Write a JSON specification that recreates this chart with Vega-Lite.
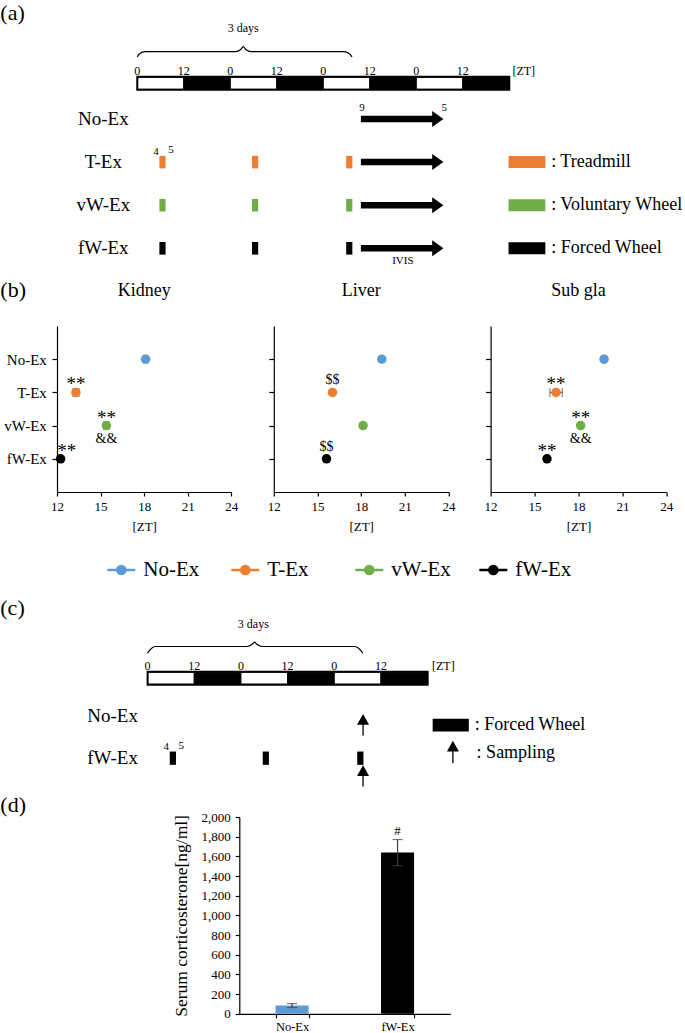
{
 "$schema": "https://vega.github.io/schema/vega-lite/v6.json",
 "padding": 0,
 "spacing": 0,
 "background": "#ffffff",
 "config": {
  "view": {"stroke": null},
  "font": "Liberation Serif",
  "axis": {"labelFont": "Liberation Serif", "titleFont": "Liberation Serif", "labelColor": "#000", "titleColor": "#000", "domainColor": "#000", "tickColor": "#000", "grid": false, "titleFontWeight": "normal", "domainWidth": 1.2, "tickWidth": 1.2},
  "title": {"font": "Liberation Serif", "fontWeight": "normal", "color": "#000"},
  "text": {"font": "Liberation Serif", "color": "#000"}
 },
 "datasets": {
  "one": [{}],
  "cycle": [
   {"start": 0, "end": 12, "phase": "light", "zt": 0},
   {"start": 12, "end": 24, "phase": "dark", "zt": 12},
   {"start": 24, "end": 36, "phase": "light", "zt": 0},
   {"start": 36, "end": 48, "phase": "dark", "zt": 12},
   {"start": 48, "end": 60, "phase": "light", "zt": 0},
   {"start": 60, "end": 72, "phase": "dark", "zt": 12},
   {"start": 72, "end": 84, "phase": "light", "zt": 0},
   {"start": 84, "end": 96, "phase": "dark", "zt": 12}
  ],
  "groups": [
   {"group": "No-Ex", "order": 1},
   {"group": "T-Ex", "order": 2},
   {"group": "vW-Ex", "order": 3},
   {"group": "fW-Ex", "order": 4}
  ],
  "sessions": [
   {"group": "T-Ex", "start": 5.7, "end": 7.3},
   {"group": "T-Ex", "start": 29.6, "end": 31.2},
   {"group": "T-Ex", "start": 53.9, "end": 55.5},
   {"group": "vW-Ex", "start": 5.7, "end": 7.3},
   {"group": "vW-Ex", "start": 29.6, "end": 31.2},
   {"group": "vW-Ex", "start": 53.9, "end": 55.5},
   {"group": "fW-Ex", "start": 5.7, "end": 7.3},
   {"group": "fW-Ex", "start": 29.6, "end": 31.2},
   {"group": "fW-Ex", "start": 53.9, "end": 55.5}
  ],
  "modes": [
   {"group": "T-Ex", "label": ": Treadmill"},
   {"group": "vW-Ex", "label": ": Voluntary Wheel"},
   {"group": "fW-Ex", "label": ": Forced Wheel"}
  ],
  "braceA": [
   {"h": 0, "v": -0.4385}, {"h": 0.5, "v": -0.508}, {"h": 2, "v": -0.5615}, {"h": 25.3, "v": -0.5615},
   {"h": 26.7, "v": -0.6125}, {"h": 27.35, "v": -0.6775}, {"h": 28.0, "v": -0.6125}, {"h": 29.4, "v": -0.5615},
   {"h": 53.3, "v": -0.5615}, {"h": 54.8, "v": -0.508}, {"h": 55.4, "v": -0.4385}
  ],
  "braceC": [
   {"h": 0, "v": -3.554}, {"h": 0.5, "v": -3.748}, {"h": 2, "v": -4.036}, {"h": 25.5, "v": -4.036},
   {"h": 26.9, "v": -4.194}, {"h": 27.5, "v": -4.345}, {"h": 28.1, "v": -4.194}, {"h": 29.5, "v": -4.036},
   {"h": 53.2, "v": -4.036}, {"h": 54.8, "v": -3.748}, {"h": 55.3, "v": -3.554}
  ],
  "phases": [
   {"organ": "Kidney", "group": "No-Ex", "zt": 18.1, "lo": 17.98, "hi": 18.22, "star": "", "starR": "", "dollar": "", "amp": ""},
   {"organ": "Kidney", "group": "T-Ex", "zt": 13.3, "lo": 13.1, "hi": 13.5, "star": "**", "starR": "", "dollar": "", "amp": ""},
   {"organ": "Kidney", "group": "vW-Ex", "zt": 15.4, "lo": 15.22, "hi": 15.58, "star": "**", "starR": "", "dollar": "", "amp": "&&"},
   {"organ": "Kidney", "group": "fW-Ex", "zt": 12.25, "lo": 12.15, "hi": 12.35, "star": "", "starR": "**", "dollar": "", "amp": ""},
   {"organ": "Liver", "group": "No-Ex", "zt": 19.42, "lo": 19.32, "hi": 19.52, "star": "", "starR": "", "dollar": "", "amp": ""},
   {"organ": "Liver", "group": "T-Ex", "zt": 16.03, "lo": 15.93, "hi": 16.13, "star": "", "starR": "", "dollar": "$$", "amp": ""},
   {"organ": "Liver", "group": "vW-Ex", "zt": 18.13, "lo": 18.03, "hi": 18.23, "star": "", "starR": "", "dollar": "", "amp": ""},
   {"organ": "Liver", "group": "fW-Ex", "zt": 15.62, "lo": 15.52, "hi": 15.72, "star": "", "starR": "", "dollar": "$$", "amp": ""},
   {"organ": "Sub gla", "group": "No-Ex", "zt": 19.75, "lo": 19.65, "hi": 19.85, "star": "", "starR": "", "dollar": "", "amp": ""},
   {"organ": "Sub gla", "group": "T-Ex", "zt": 16.47, "lo": 16.05, "hi": 16.9, "star": "**", "starR": "", "dollar": "", "amp": ""},
   {"organ": "Sub gla", "group": "vW-Ex", "zt": 18.15, "lo": 18.05, "hi": 18.25, "star": "**", "starR": "", "dollar": "", "amp": "&&"},
   {"organ": "Sub gla", "group": "fW-Ex", "zt": 15.85, "lo": 15.75, "hi": 15.95, "star": "**", "starR": "", "dollar": "", "amp": ""}
  ],
  "cort": [
   {"group": "No-Ex", "value": 85, "lo": 64, "hi": 104, "sig": ""},
   {"group": "fW-Ex", "value": 1640, "lo": 1506, "hi": 1771, "sig": "#"}
  ]
 },
 "vconcat": [
  {
   "width": 628.3, "height": 279,
   "layer": [
    {"data": {"name": "cycle"}, "mark": {"type": "bar", "size": 12, "stroke": "#000", "strokeWidth": 1},
     "encoding": {"x": {"field": "start", "type": "quantitative", "scale": {"domain": [-20.723, 141.419], "nice": false, "zero": false, "padding": 0}, "axis": null}, "x2": {"field": "end"},
      "y": {"datum": 0.1717, "type": "quantitative", "scale": {"domain": [-1.761, 4.712], "nice": false, "zero": false, "reverse": true, "padding": 0}, "axis": null},
      "fill": {"field": "phase", "type": "nominal", "scale": {"domain": ["light", "dark"], "range": ["#ffffff", "#000000"]}, "legend": null}}},
    {"data": {"name": "one"}, "mark": {"type": "bar", "size": 13, "fill": "transparent", "stroke": "#000", "strokeWidth": 2},
     "encoding": {"x": {"datum": 0, "type": "quantitative", "scale": {"domain": [-20.723, 141.419], "nice": false, "zero": false, "padding": 0}, "axis": null}, "x2": {"datum": 96},
      "y": {"datum": 0.1717, "type": "quantitative", "scale": {"domain": [-1.761, 4.712], "nice": false, "zero": false, "reverse": true, "padding": 0}, "axis": null}}},
    {"data": {"name": "cycle"}, "mark": {"type": "text", "fontSize": 12, "baseline": "middle"},
     "encoding": {"x": {"field": "start", "type": "quantitative", "scale": {"domain": [-20.723, 141.419], "nice": false, "zero": false, "padding": 0}, "axis": null},
      "y": {"datum": -0.1206, "type": "quantitative", "scale": {"domain": [-1.761, 4.712], "nice": false, "zero": false, "reverse": true, "padding": 0}, "axis": null},
      "text": {"field": "zt", "type": "quantitative"}}},
    {"data": {"name": "one"}, "mark": {"type": "text", "fontSize": 12, "align": "left", "baseline": "middle"},
     "encoding": {"x": {"datum": 96.8, "type": "quantitative", "scale": {"domain": [-20.723, 141.419], "nice": false, "zero": false, "padding": 0}, "axis": null},
      "y": {"datum": -0.1206, "type": "quantitative", "scale": {"domain": [-1.761, 4.712], "nice": false, "zero": false, "reverse": true, "padding": 0}, "axis": null},
      "text": {"value": "[ZT]"}}},
    {"data": {"name": "one"}, "mark": {"type": "text", "fontSize": 12, "baseline": "middle"},
     "encoding": {"x": {"datum": 27.35, "type": "quantitative", "scale": {"domain": [-20.723, 141.419], "nice": false, "zero": false, "padding": 0}, "axis": null},
      "y": {"datum": -1.104, "type": "quantitative", "scale": {"domain": [-1.761, 4.712], "nice": false, "zero": false, "reverse": true, "padding": 0}, "axis": null},
      "text": {"value": "3 days"}}},
    {"data": {"name": "one"}, "mark": {"type": "text", "fontSize": 22, "align": "left", "baseline": "middle"},
     "encoding": {"x": {"datum": -35.355, "type": "quantitative", "scale": {"domain": [-20.723, 141.419], "nice": false, "zero": false, "padding": 0}, "axis": null},
      "y": {"datum": -1.459, "type": "quantitative", "scale": {"domain": [-1.761, 4.712], "nice": false, "zero": false, "reverse": true, "padding": 0}, "axis": null},
      "text": {"value": "(a)"}}},
    {"data": {"name": "braceA"}, "mark": {"type": "line", "interpolate": "monotone", "color": "#000", "strokeWidth": 1.2},
     "encoding": {"x": {"field": "h", "type": "quantitative", "scale": {"domain": [-20.723, 141.419], "nice": false, "zero": false, "padding": 0}, "axis": null},
      "y": {"field": "v", "type": "quantitative", "scale": {"domain": [-1.761, 4.712], "nice": false, "zero": false, "reverse": true, "padding": 0}, "axis": null}}},
    {"data": {"name": "one"}, "mark": {"type": "text", "fontSize": 11, "baseline": "middle"},
     "encoding": {"x": {"datum": 57.96, "type": "quantitative", "scale": {"domain": [-20.723, 141.419], "nice": false, "zero": false, "padding": 0}, "axis": null},
      "y": {"datum": 0.738, "type": "quantitative", "scale": {"domain": [-1.761, 4.712], "nice": false, "zero": false, "reverse": true, "padding": 0}, "axis": null},
      "text": {"value": "9"}}},
    {"data": {"name": "one"}, "mark": {"type": "text", "fontSize": 11, "baseline": "middle"},
     "encoding": {"x": {"datum": 79.2, "type": "quantitative", "scale": {"domain": [-20.723, 141.419], "nice": false, "zero": false, "padding": 0}, "axis": null},
      "y": {"datum": 0.738, "type": "quantitative", "scale": {"domain": [-1.761, 4.712], "nice": false, "zero": false, "reverse": true, "padding": 0}, "axis": null},
      "text": {"value": "5"}}},
    {"data": {"name": "one"}, "mark": {"type": "text", "fontSize": 11, "baseline": "middle"},
     "encoding": {"x": {"datum": 4.83, "type": "quantitative", "scale": {"domain": [-20.723, 141.419], "nice": false, "zero": false, "padding": 0}, "axis": null},
      "y": {"datum": 1.755, "type": "quantitative", "scale": {"domain": [-1.761, 4.712], "nice": false, "zero": false, "reverse": true, "padding": 0}, "axis": null},
      "text": {"value": "4"}}},
    {"data": {"name": "one"}, "mark": {"type": "text", "fontSize": 11, "baseline": "middle"},
     "encoding": {"x": {"datum": 8.7, "type": "quantitative", "scale": {"domain": [-20.723, 141.419], "nice": false, "zero": false, "padding": 0}, "axis": null},
      "y": {"datum": 1.73, "type": "quantitative", "scale": {"domain": [-1.761, 4.712], "nice": false, "zero": false, "reverse": true, "padding": 0}, "axis": null},
      "text": {"value": "5"}}},
    {"data": {"name": "one"}, "mark": {"type": "text", "fontSize": 11, "baseline": "middle"},
     "encoding": {"x": {"datum": 68.54, "type": "quantitative", "scale": {"domain": [-20.723, 141.419], "nice": false, "zero": false, "padding": 0}, "axis": null},
      "y": {"datum": 4.295, "type": "quantitative", "scale": {"domain": [-1.761, 4.712], "nice": false, "zero": false, "reverse": true, "padding": 0}, "axis": null},
      "text": {"value": "IVIS"}}},
    {"data": {"name": "groups"}, "mark": {"type": "text", "fontSize": 19, "baseline": "middle"},
     "encoding": {"x": {"datum": -8.774, "type": "quantitative", "scale": {"domain": [-20.723, 141.419], "nice": false, "zero": false, "padding": 0}, "axis": null},
      "y": {"field": "order", "type": "quantitative", "scale": {"domain": [-1.761, 4.712], "nice": false, "zero": false, "reverse": true, "padding": 0}, "axis": null},
      "text": {"field": "group"}}},
    {"data": {"name": "groups"}, "mark": {"type": "rule", "strokeWidth": 6.5, "color": "#000"},
     "encoding": {"x": {"datum": 57.7, "type": "quantitative", "scale": {"domain": [-20.723, 141.419], "nice": false, "zero": false, "padding": 0}, "axis": null}, "x2": {"datum": 76.4},
      "y": {"field": "order", "type": "quantitative", "scale": {"domain": [-1.761, 4.712], "nice": false, "zero": false, "reverse": true, "padding": 0}, "axis": null}}},
    {"data": {"name": "groups"}, "mark": {"type": "point", "shape": "M-0.7,-1L0.7,0L-0.7,1Z", "size": 256, "filled": true, "color": "#000", "opacity": 1, "strokeWidth": 0},
     "encoding": {"x": {"datum": 77.55, "type": "quantitative", "scale": {"domain": [-20.723, 141.419], "nice": false, "zero": false, "padding": 0}, "axis": null},
      "y": {"field": "order", "type": "quantitative", "scale": {"domain": [-1.761, 4.712], "nice": false, "zero": false, "reverse": true, "padding": 0}, "axis": null}}},
    {"data": {"name": "sessions"}, "transform": [{"lookup": "group", "from": {"data": {"name": "groups"}, "key": "group", "fields": ["order"]}}],
     "mark": {"type": "bar", "size": 12.6},
     "encoding": {"x": {"field": "start", "type": "quantitative", "scale": {"domain": [-20.723, 141.419], "nice": false, "zero": false, "padding": 0}, "axis": null}, "x2": {"field": "end"},
      "y": {"field": "order", "type": "quantitative", "scale": {"domain": [-1.761, 4.712], "nice": false, "zero": false, "reverse": true, "padding": 0}, "axis": null},
      "color": {"field": "group", "type": "nominal", "scale": {"domain": ["No-Ex", "T-Ex", "vW-Ex", "fW-Ex"], "range": ["#5B9BD5", "#ED7D31", "#70AD47", "#000000"]}, "legend": null}}},
    {"data": {"name": "modes"}, "transform": [{"lookup": "group", "from": {"data": {"name": "groups"}, "key": "group", "fields": ["order"]}}],
     "mark": {"type": "bar", "size": 12},
     "encoding": {"x": {"datum": 95.8, "type": "quantitative", "scale": {"domain": [-20.723, 141.419], "nice": false, "zero": false, "padding": 0}, "axis": null}, "x2": {"datum": 105.3},
      "y": {"field": "order", "type": "quantitative", "scale": {"domain": [-1.761, 4.712], "nice": false, "zero": false, "reverse": true, "padding": 0}, "axis": null},
      "color": {"field": "group", "type": "nominal", "scale": {"domain": ["No-Ex", "T-Ex", "vW-Ex", "fW-Ex"], "range": ["#5B9BD5", "#ED7D31", "#70AD47", "#000000"]}, "legend": null}}},
    {"data": {"name": "modes"}, "transform": [{"lookup": "group", "from": {"data": {"name": "groups"}, "key": "group", "fields": ["order"]}}],
     "mark": {"type": "text", "fontSize": 18, "align": "left", "baseline": "middle"},
     "encoding": {"x": {"datum": 106.8, "type": "quantitative", "scale": {"domain": [-20.723, 141.419], "nice": false, "zero": false, "padding": 0}, "axis": null},
      "y": {"field": "order", "type": "quantitative", "scale": {"domain": [-1.761, 4.712], "nice": false, "zero": false, "reverse": true, "padding": 0}, "axis": null},
      "text": {"field": "label"}}}
   ]
  },
  {
   "title": {"text": "(b)", "anchor": "start", "frame": "bounds", "fontSize": 22, "offset": -20},
   "bounds": "flush",
   "spacing": 41.8,
   "hconcat": [
    {
     "width": 174.3, "height": 166,
     "title": {"text": "Kidney", "fontSize": 18, "offset": 26},
     "data": {"name": "phases"},
     "transform": [{"filter": "datum.organ == 'Kidney'"}],
     "layer": [
      {"mark": {"type": "rule", "color": "#595959", "strokeWidth": 1.2},
       "encoding": {"x": {"field": "lo", "type": "quantitative", "scale": {"domain": [12, 24], "nice": false, "zero": false}, "axis": {"values": [12, 15, 18, 21, 24], "title": "[ZT]", "titleFontSize": 13, "titlePadding": 7.5, "labelFontSize": 13, "tickSize": 4, "labelPadding": 4, "labelFlush": false, "labelOverlap": false}}, "x2": {"field": "hi"},
        "y": {"field": "group", "type": "nominal", "scale": {"type": "point", "domain": ["No-Ex", "T-Ex", "vW-Ex", "fW-Ex"], "padding": 1}, "axis": {"title": null, "labelFontSize": 15, "tickSize": 5, "labelPadding": 5.7, "minExtent": 56.7, "maxExtent": 56.7}}}},
      {"mark": {"type": "tick", "color": "#595959", "size": 9, "thickness": 1.2},
       "encoding": {"x": {"field": "lo", "type": "quantitative", "scale": {"domain": [12, 24], "nice": false, "zero": false}, "axis": {"values": [12, 15, 18, 21, 24], "title": "[ZT]", "titleFontSize": 13, "titlePadding": 7.5, "labelFontSize": 13, "tickSize": 4, "labelPadding": 4, "labelFlush": false, "labelOverlap": false}},
        "y": {"field": "group", "type": "nominal", "scale": {"type": "point", "domain": ["No-Ex", "T-Ex", "vW-Ex", "fW-Ex"], "padding": 1}, "axis": {"title": null, "labelFontSize": 15, "tickSize": 5, "labelPadding": 5.7, "minExtent": 56.7, "maxExtent": 56.7}}}},
      {"mark": {"type": "tick", "color": "#595959", "size": 9, "thickness": 1.2},
       "encoding": {"x": {"field": "hi", "type": "quantitative", "scale": {"domain": [12, 24], "nice": false, "zero": false}, "axis": {"values": [12, 15, 18, 21, 24], "title": "[ZT]", "titleFontSize": 13, "titlePadding": 7.5, "labelFontSize": 13, "tickSize": 4, "labelPadding": 4, "labelFlush": false, "labelOverlap": false}},
        "y": {"field": "group", "type": "nominal", "scale": {"type": "point", "domain": ["No-Ex", "T-Ex", "vW-Ex", "fW-Ex"], "padding": 1}, "axis": {"title": null, "labelFontSize": 15, "tickSize": 5, "labelPadding": 5.7, "minExtent": 56.7, "maxExtent": 56.7}}}},
      {"mark": {"type": "point", "filled": true, "size": 90, "opacity": 1, "strokeWidth": 0},
       "encoding": {"x": {"field": "zt", "type": "quantitative", "scale": {"domain": [12, 24], "nice": false, "zero": false}, "axis": {"values": [12, 15, 18, 21, 24], "title": "[ZT]", "titleFontSize": 13, "titlePadding": 7.5, "labelFontSize": 13, "tickSize": 4, "labelPadding": 4, "labelFlush": false, "labelOverlap": false}},
        "y": {"field": "group", "type": "nominal", "scale": {"type": "point", "domain": ["No-Ex", "T-Ex", "vW-Ex", "fW-Ex"], "padding": 1}, "axis": {"title": null, "labelFontSize": 15, "tickSize": 5, "labelPadding": 5.7, "minExtent": 56.7, "maxExtent": 56.7}},
        "color": {"field": "group", "type": "nominal", "scale": {"domain": ["No-Ex", "T-Ex", "vW-Ex", "fW-Ex"], "range": ["#5B9BD5", "#ED7D31", "#70AD47", "#000000"]}, "legend": null}}},
      {"mark": {"type": "text", "fontSize": 19, "baseline": "alphabetic", "dy": -2},
       "encoding": {"x": {"field": "zt", "type": "quantitative", "scale": {"domain": [12, 24], "nice": false, "zero": false}, "axis": {"values": [12, 15, 18, 21, 24], "title": "[ZT]", "titleFontSize": 13, "titlePadding": 7.5, "labelFontSize": 13, "tickSize": 4, "labelPadding": 4, "labelFlush": false, "labelOverlap": false}},
        "y": {"field": "group", "type": "nominal", "scale": {"type": "point", "domain": ["No-Ex", "T-Ex", "vW-Ex", "fW-Ex"], "padding": 1}, "axis": {"title": null, "labelFontSize": 15, "tickSize": 5, "labelPadding": 5.7, "minExtent": 56.7, "maxExtent": 56.7}},
        "text": {"field": "star"}}},
      {"mark": {"type": "text", "fontSize": 19, "baseline": "alphabetic", "dy": -2, "dx": 6},
       "encoding": {"x": {"field": "zt", "type": "quantitative", "scale": {"domain": [12, 24], "nice": false, "zero": false}, "axis": {"values": [12, 15, 18, 21, 24], "title": "[ZT]", "titleFontSize": 13, "titlePadding": 7.5, "labelFontSize": 13, "tickSize": 4, "labelPadding": 4, "labelFlush": false, "labelOverlap": false}},
        "y": {"field": "group", "type": "nominal", "scale": {"type": "point", "domain": ["No-Ex", "T-Ex", "vW-Ex", "fW-Ex"], "padding": 1}, "axis": {"title": null, "labelFontSize": 15, "tickSize": 5, "labelPadding": 5.7, "minExtent": 56.7, "maxExtent": 56.7}},
        "text": {"field": "starR"}}},
      {"mark": {"type": "text", "fontSize": 14, "baseline": "alphabetic", "dy": 17},
       "encoding": {"x": {"field": "zt", "type": "quantitative", "scale": {"domain": [12, 24], "nice": false, "zero": false}, "axis": {"values": [12, 15, 18, 21, 24], "title": "[ZT]", "titleFontSize": 13, "titlePadding": 7.5, "labelFontSize": 13, "tickSize": 4, "labelPadding": 4, "labelFlush": false, "labelOverlap": false}},
        "y": {"field": "group", "type": "nominal", "scale": {"type": "point", "domain": ["No-Ex", "T-Ex", "vW-Ex", "fW-Ex"], "padding": 1}, "axis": {"title": null, "labelFontSize": 15, "tickSize": 5, "labelPadding": 5.7, "minExtent": 56.7, "maxExtent": 56.7}},
        "text": {"field": "amp"}}}
     ]
    },
    {
     "width": 174.7, "height": 166,
     "title": {"text": "Liver", "fontSize": 18, "offset": 26},
     "data": {"name": "phases"},
     "transform": [{"filter": "datum.organ == 'Liver'"}],
     "layer": [
      {"mark": {"type": "rule", "color": "#595959", "strokeWidth": 1.2},
       "encoding": {"x": {"field": "lo", "type": "quantitative", "scale": {"domain": [12, 24], "nice": false, "zero": false}, "axis": {"values": [12, 15, 18, 21, 24], "title": "[ZT]", "titleFontSize": 13, "titlePadding": 7.5, "labelFontSize": 13, "tickSize": 4, "labelPadding": 4, "labelFlush": false, "labelOverlap": false}}, "x2": {"field": "hi"},
        "y": {"field": "group", "type": "nominal", "scale": {"type": "point", "domain": ["No-Ex", "T-Ex", "vW-Ex", "fW-Ex"], "padding": 1}, "axis": {"title": null, "labels": false, "tickSize": 5, "minExtent": 0}}}},
      {"mark": {"type": "point", "filled": true, "size": 90, "opacity": 1, "strokeWidth": 0},
       "encoding": {"x": {"field": "zt", "type": "quantitative", "scale": {"domain": [12, 24], "nice": false, "zero": false}, "axis": {"values": [12, 15, 18, 21, 24], "title": "[ZT]", "titleFontSize": 13, "titlePadding": 7.5, "labelFontSize": 13, "tickSize": 4, "labelPadding": 4, "labelFlush": false, "labelOverlap": false}},
        "y": {"field": "group", "type": "nominal", "scale": {"type": "point", "domain": ["No-Ex", "T-Ex", "vW-Ex", "fW-Ex"], "padding": 1}, "axis": {"title": null, "labels": false, "tickSize": 5, "minExtent": 0}},
        "color": {"field": "group", "type": "nominal", "scale": {"domain": ["No-Ex", "T-Ex", "vW-Ex", "fW-Ex"], "range": ["#5B9BD5", "#ED7D31", "#70AD47", "#000000"]}, "legend": null}}},
      {"mark": {"type": "text", "fontSize": 14, "baseline": "alphabetic", "dy": -8.3},
       "encoding": {"x": {"field": "zt", "type": "quantitative", "scale": {"domain": [12, 24], "nice": false, "zero": false}, "axis": {"values": [12, 15, 18, 21, 24], "title": "[ZT]", "titleFontSize": 13, "titlePadding": 7.5, "labelFontSize": 13, "tickSize": 4, "labelPadding": 4, "labelFlush": false, "labelOverlap": false}},
        "y": {"field": "group", "type": "nominal", "scale": {"type": "point", "domain": ["No-Ex", "T-Ex", "vW-Ex", "fW-Ex"], "padding": 1}, "axis": {"title": null, "labels": false, "tickSize": 5, "minExtent": 0}},
        "text": {"field": "dollar"}}}
     ]
    },
    {
     "width": 175.7, "height": 166,
     "title": {"text": "Sub gla", "fontSize": 18, "offset": 26},
     "data": {"name": "phases"},
     "transform": [{"filter": "datum.organ == 'Sub gla'"}],
     "layer": [
      {"mark": {"type": "rule", "color": "#595959", "strokeWidth": 1.2},
       "encoding": {"x": {"field": "lo", "type": "quantitative", "scale": {"domain": [12, 24], "nice": false, "zero": false}, "axis": {"values": [12, 15, 18, 21, 24], "title": "[ZT]", "titleFontSize": 13, "titlePadding": 7.5, "labelFontSize": 13, "tickSize": 4, "labelPadding": 4, "labelFlush": false, "labelOverlap": false}}, "x2": {"field": "hi"},
        "y": {"field": "group", "type": "nominal", "scale": {"type": "point", "domain": ["No-Ex", "T-Ex", "vW-Ex", "fW-Ex"], "padding": 1}, "axis": {"title": null, "labels": false, "tickSize": 5, "minExtent": 0}}}},
      {"mark": {"type": "tick", "color": "#595959", "size": 9, "thickness": 1.2},
       "encoding": {"x": {"field": "lo", "type": "quantitative", "scale": {"domain": [12, 24], "nice": false, "zero": false}, "axis": {"values": [12, 15, 18, 21, 24], "title": "[ZT]", "titleFontSize": 13, "titlePadding": 7.5, "labelFontSize": 13, "tickSize": 4, "labelPadding": 4, "labelFlush": false, "labelOverlap": false}},
        "y": {"field": "group", "type": "nominal", "scale": {"type": "point", "domain": ["No-Ex", "T-Ex", "vW-Ex", "fW-Ex"], "padding": 1}, "axis": {"title": null, "labels": false, "tickSize": 5, "minExtent": 0}}}},
      {"mark": {"type": "tick", "color": "#595959", "size": 9, "thickness": 1.2},
       "encoding": {"x": {"field": "hi", "type": "quantitative", "scale": {"domain": [12, 24], "nice": false, "zero": false}, "axis": {"values": [12, 15, 18, 21, 24], "title": "[ZT]", "titleFontSize": 13, "titlePadding": 7.5, "labelFontSize": 13, "tickSize": 4, "labelPadding": 4, "labelFlush": false, "labelOverlap": false}},
        "y": {"field": "group", "type": "nominal", "scale": {"type": "point", "domain": ["No-Ex", "T-Ex", "vW-Ex", "fW-Ex"], "padding": 1}, "axis": {"title": null, "labels": false, "tickSize": 5, "minExtent": 0}}}},
      {"mark": {"type": "point", "filled": true, "size": 90, "opacity": 1, "strokeWidth": 0},
       "encoding": {"x": {"field": "zt", "type": "quantitative", "scale": {"domain": [12, 24], "nice": false, "zero": false}, "axis": {"values": [12, 15, 18, 21, 24], "title": "[ZT]", "titleFontSize": 13, "titlePadding": 7.5, "labelFontSize": 13, "tickSize": 4, "labelPadding": 4, "labelFlush": false, "labelOverlap": false}},
        "y": {"field": "group", "type": "nominal", "scale": {"type": "point", "domain": ["No-Ex", "T-Ex", "vW-Ex", "fW-Ex"], "padding": 1}, "axis": {"title": null, "labels": false, "tickSize": 5, "minExtent": 0}},
        "color": {"field": "group", "type": "nominal", "scale": {"domain": ["No-Ex", "T-Ex", "vW-Ex", "fW-Ex"], "range": ["#5B9BD5", "#ED7D31", "#70AD47", "#000000"]}, "legend": null}}},
      {"mark": {"type": "text", "fontSize": 19, "baseline": "alphabetic", "dy": -2},
       "encoding": {"x": {"field": "zt", "type": "quantitative", "scale": {"domain": [12, 24], "nice": false, "zero": false}, "axis": {"values": [12, 15, 18, 21, 24], "title": "[ZT]", "titleFontSize": 13, "titlePadding": 7.5, "labelFontSize": 13, "tickSize": 4, "labelPadding": 4, "labelFlush": false, "labelOverlap": false}},
        "y": {"field": "group", "type": "nominal", "scale": {"type": "point", "domain": ["No-Ex", "T-Ex", "vW-Ex", "fW-Ex"], "padding": 1}, "axis": {"title": null, "labels": false, "tickSize": 5, "minExtent": 0}},
        "text": {"field": "star"}}},
      {"mark": {"type": "text", "fontSize": 14, "baseline": "alphabetic", "dy": 17},
       "encoding": {"x": {"field": "zt", "type": "quantitative", "scale": {"domain": [12, 24], "nice": false, "zero": false}, "axis": {"values": [12, 15, 18, 21, 24], "title": "[ZT]", "titleFontSize": 13, "titlePadding": 7.5, "labelFontSize": 13, "tickSize": 4, "labelPadding": 4, "labelFlush": false, "labelOverlap": false}},
        "y": {"field": "group", "type": "nominal", "scale": {"type": "point", "domain": ["No-Ex", "T-Ex", "vW-Ex", "fW-Ex"], "padding": 1}, "axis": {"title": null, "labels": false, "tickSize": 5, "minExtent": 0}},
        "text": {"field": "amp"}}}
     ]
    }
   ]
  },
  {
   "width": 500.6, "height": 50,
   "data": {"name": "groups"},
   "layer": [
    {"mark": {"type": "point", "shape": "M-1,0L1,0M0.29,0A0.29,0.29,0,1,1,-0.29,0A0.29,0.29,0,1,1,0.29,0Z", "size": 784, "filled": true, "strokeWidth": 2.5, "opacity": 1},
     "encoding": {"x": {"field": "group", "type": "nominal", "scale": {"type": "point", "domain": ["No-Ex", "T-Ex", "vW-Ex", "fW-Ex"], "padding": 0.5185}, "axis": null},
      "y": {"datum": 0.28, "type": "quantitative", "scale": {"domain": [0, 1], "nice": false, "zero": false}, "axis": null},
      "color": {"field": "group", "type": "nominal", "scale": {"domain": ["No-Ex", "T-Ex", "vW-Ex", "fW-Ex"], "range": ["#5B9BD5", "#ED7D31", "#70AD47", "#000000"]}, "legend": null},
      "stroke": {"field": "group", "type": "nominal", "scale": {"domain": ["No-Ex", "T-Ex", "vW-Ex", "fW-Ex"], "range": ["#5B9BD5", "#ED7D31", "#70AD47", "#000000"]}, "legend": null}}},
    {"mark": {"type": "text", "fontSize": 21, "align": "left", "baseline": "middle", "dx": 22},
     "encoding": {"x": {"field": "group", "type": "nominal", "scale": {"type": "point", "domain": ["No-Ex", "T-Ex", "vW-Ex", "fW-Ex"], "padding": 0.5185}, "axis": null},
      "y": {"datum": 0.28, "type": "quantitative", "scale": {"domain": [0, 1], "nice": false, "zero": false}, "axis": null},
      "text": {"field": "group"}}}
   ]
  },
  {
   "width": 628.3, "height": 208.5,
   "layer": [
    {"data": {"name": "cycle"}, "transform": [{"filter": "datum.end <= 72"}], "mark": {"type": "bar", "size": 12, "stroke": "#000", "strokeWidth": 1},
     "encoding": {"x": {"field": "start", "type": "quantitative", "scale": {"domain": [-23.296, 138.26], "nice": false, "zero": false, "padding": 0}, "axis": null}, "x2": {"field": "end"},
      "y": {"datum": -1.755, "type": "quantitative", "scale": {"domain": [-8.53, 6.468], "nice": false, "zero": false, "reverse": true, "padding": 0}, "axis": null},
      "fill": {"field": "phase", "type": "nominal", "scale": {"domain": ["light", "dark"], "range": ["#ffffff", "#000000"]}, "legend": null}}},
    {"data": {"name": "one"}, "mark": {"type": "bar", "size": 13, "fill": "transparent", "stroke": "#000", "strokeWidth": 2},
     "encoding": {"x": {"datum": 0, "type": "quantitative", "scale": {"domain": [-23.296, 138.26], "nice": false, "zero": false, "padding": 0}, "axis": null}, "x2": {"datum": 72},
      "y": {"datum": -1.755, "type": "quantitative", "scale": {"domain": [-8.53, 6.468], "nice": false, "zero": false, "reverse": true, "padding": 0}, "axis": null}}},
    {"data": {"name": "cycle"}, "transform": [{"filter": "datum.end <= 72"}], "mark": {"type": "text", "fontSize": 12, "baseline": "middle"},
     "encoding": {"x": {"field": "start", "type": "quantitative", "scale": {"domain": [-23.296, 138.26], "nice": false, "zero": false, "padding": 0}, "axis": null},
      "y": {"datum": -2.647, "type": "quantitative", "scale": {"domain": [-8.53, 6.468], "nice": false, "zero": false, "reverse": true, "padding": 0}, "axis": null},
      "text": {"field": "zt", "type": "quantitative"}}},
    {"data": {"name": "one"}, "mark": {"type": "text", "fontSize": 12, "align": "left", "baseline": "middle"},
     "encoding": {"x": {"datum": 73.13, "type": "quantitative", "scale": {"domain": [-23.296, 138.26], "nice": false, "zero": false, "padding": 0}, "axis": null},
      "y": {"datum": -2.647, "type": "quantitative", "scale": {"domain": [-8.53, 6.468], "nice": false, "zero": false, "reverse": true, "padding": 0}, "axis": null},
      "text": {"value": "[ZT]"}}},
    {"data": {"name": "one"}, "mark": {"type": "text", "fontSize": 12, "baseline": "middle"},
     "encoding": {"x": {"datum": 27.18, "type": "quantitative", "scale": {"domain": [-23.296, 138.26], "nice": false, "zero": false, "padding": 0}, "axis": null},
      "y": {"datum": -5.669, "type": "quantitative", "scale": {"domain": [-8.53, 6.468], "nice": false, "zero": false, "reverse": true, "padding": 0}, "axis": null},
      "text": {"value": "3 days"}}},
    {"data": {"name": "one"}, "mark": {"type": "text", "fontSize": 22, "align": "left", "baseline": "middle"},
     "encoding": {"x": {"datum": -37.876, "type": "quantitative", "scale": {"domain": [-23.296, 138.26], "nice": false, "zero": false, "padding": 0}, "axis": null},
      "y": {"datum": -6.791, "type": "quantitative", "scale": {"domain": [-8.53, 6.468], "nice": false, "zero": false, "reverse": true, "padding": 0}, "axis": null},
      "text": {"value": "(c)"}}},
    {"data": {"name": "braceC"}, "mark": {"type": "line", "interpolate": "monotone", "color": "#000", "strokeWidth": 1.2},
     "encoding": {"x": {"field": "h", "type": "quantitative", "scale": {"domain": [-23.296, 138.26], "nice": false, "zero": false, "padding": 0}, "axis": null},
      "y": {"field": "v", "type": "quantitative", "scale": {"domain": [-8.53, 6.468], "nice": false, "zero": false, "reverse": true, "padding": 0}, "axis": null}}},
    {"data": {"name": "groups"}, "transform": [{"filter": "datum.group == 'No-Ex' || datum.group == 'fW-Ex'"}], "mark": {"type": "text", "fontSize": 19, "baseline": "middle"},
     "encoding": {"x": {"datum": -9.0, "type": "quantitative", "scale": {"domain": [-23.296, 138.26], "nice": false, "zero": false, "padding": 0}, "axis": null},
      "y": {"field": "order", "type": "quantitative", "scale": {"domain": [-8.53, 6.468], "nice": false, "zero": false, "reverse": true, "padding": 0}, "axis": null},
      "text": {"field": "group"}}},
    {"data": {"name": "sessions"}, "transform": [{"filter": "datum.group == 'fW-Ex'"}, {"lookup": "group", "from": {"data": {"name": "groups"}, "key": "group", "fields": ["order"]}}],
     "mark": {"type": "bar", "size": 13.3},
     "encoding": {"x": {"field": "start", "type": "quantitative", "scale": {"domain": [-23.296, 138.26], "nice": false, "zero": false, "padding": 0}, "axis": null}, "x2": {"field": "end"},
      "y": {"field": "order", "type": "quantitative", "scale": {"domain": [-8.53, 6.468], "nice": false, "zero": false, "reverse": true, "padding": 0}, "axis": null},
      "color": {"field": "group", "type": "nominal", "scale": {"domain": ["No-Ex", "T-Ex", "vW-Ex", "fW-Ex"], "range": ["#5B9BD5", "#ED7D31", "#70AD47", "#000000"]}, "legend": null}}},
    {"data": {"name": "one"}, "mark": {"type": "text", "fontSize": 11, "baseline": "middle"},
     "encoding": {"x": {"datum": 4.81, "type": "quantitative", "scale": {"domain": [-23.296, 138.26], "nice": false, "zero": false, "padding": 0}, "axis": null},
      "y": {"datum": 3.23, "type": "quantitative", "scale": {"domain": [-8.53, 6.468], "nice": false, "zero": false, "reverse": true, "padding": 0}, "axis": null},
      "text": {"value": "4"}}},
    {"data": {"name": "one"}, "mark": {"type": "text", "fontSize": 11, "baseline": "middle"},
     "encoding": {"x": {"datum": 8.67, "type": "quantitative", "scale": {"domain": [-23.296, 138.26], "nice": false, "zero": false, "padding": 0}, "axis": null},
      "y": {"datum": 3.15, "type": "quantitative", "scale": {"domain": [-8.53, 6.468], "nice": false, "zero": false, "reverse": true, "padding": 0}, "axis": null},
      "text": {"value": "5"}}},
    {"data": {"name": "one"}, "mark": {"type": "rule", "strokeWidth": 1.3, "color": "#000"},
     "encoding": {"x": {"datum": 55.4, "type": "quantitative", "scale": {"domain": [-23.296, 138.26], "nice": false, "zero": false, "padding": 0}, "axis": null},
      "y": {"datum": 1.288, "type": "quantitative", "scale": {"domain": [-8.53, 6.468], "nice": false, "zero": false, "reverse": true, "padding": 0}, "axis": null}, "y2": {"datum": 2.367}}},
    {"data": {"name": "one"}, "mark": {"type": "point", "shape": "M-1,0.9L0,-0.9L1,0.9Z", "size": 144, "filled": true, "color": "#000", "opacity": 1, "strokeWidth": 0},
     "encoding": {"x": {"datum": 55.4, "type": "quantitative", "scale": {"domain": [-23.296, 138.26], "nice": false, "zero": false, "padding": 0}, "axis": null},
      "y": {"datum": 1.201, "type": "quantitative", "scale": {"domain": [-8.53, 6.468], "nice": false, "zero": false, "reverse": true, "padding": 0}, "axis": null}}},
    {"data": {"name": "one"}, "mark": {"type": "rule", "strokeWidth": 1.3, "color": "#000"},
     "encoding": {"x": {"datum": 55.4, "type": "quantitative", "scale": {"domain": [-23.296, 138.26], "nice": false, "zero": false, "padding": 0}, "axis": null},
      "y": {"datum": 4.957, "type": "quantitative", "scale": {"domain": [-8.53, 6.468], "nice": false, "zero": false, "reverse": true, "padding": 0}, "axis": null}, "y2": {"datum": 6.036}}},
    {"data": {"name": "one"}, "mark": {"type": "point", "shape": "M-1,0.9L0,-0.9L1,0.9Z", "size": 144, "filled": true, "color": "#000", "opacity": 1, "strokeWidth": 0},
     "encoding": {"x": {"datum": 55.4, "type": "quantitative", "scale": {"domain": [-23.296, 138.26], "nice": false, "zero": false, "padding": 0}, "axis": null},
      "y": {"datum": 4.899, "type": "quantitative", "scale": {"domain": [-8.53, 6.468], "nice": false, "zero": false, "reverse": true, "padding": 0}, "axis": null}}},
    {"data": {"name": "one"}, "mark": {"type": "bar", "size": 12.7, "color": "#000"},
     "encoding": {"x": {"datum": 73.3, "type": "quantitative", "scale": {"domain": [-23.296, 138.26], "nice": false, "zero": false, "padding": 0}, "axis": null}, "x2": {"datum": 82.6},
      "y": {"datum": 1.626, "type": "quantitative", "scale": {"domain": [-8.53, 6.468], "nice": false, "zero": false, "reverse": true, "padding": 0}, "axis": null}}},
    {"data": {"name": "one"}, "mark": {"type": "text", "fontSize": 18, "align": "left", "baseline": "middle"},
     "encoding": {"x": {"datum": 84.1, "type": "quantitative", "scale": {"domain": [-23.296, 138.26], "nice": false, "zero": false, "padding": 0}, "axis": null},
      "y": {"datum": 1.626, "type": "quantitative", "scale": {"domain": [-8.53, 6.468], "nice": false, "zero": false, "reverse": true, "padding": 0}, "axis": null},
      "text": {"value": ": Forced Wheel"}}},
    {"data": {"name": "one"}, "mark": {"type": "rule", "strokeWidth": 1.3, "color": "#000"},
     "encoding": {"x": {"datum": 78.5, "type": "quantitative", "scale": {"domain": [-23.296, 138.26], "nice": false, "zero": false, "padding": 0}, "axis": null},
      "y": {"datum": 3.158, "type": "quantitative", "scale": {"domain": [-8.53, 6.468], "nice": false, "zero": false, "reverse": true, "padding": 0}, "axis": null}, "y2": {"datum": 4.36}}},
    {"data": {"name": "one"}, "mark": {"type": "point", "shape": "M-1,0.9L0,-0.9L1,0.9Z", "size": 144, "filled": true, "color": "#000", "opacity": 1, "strokeWidth": 0},
     "encoding": {"x": {"datum": 78.5, "type": "quantitative", "scale": {"domain": [-23.296, 138.26], "nice": false, "zero": false, "padding": 0}, "axis": null},
      "y": {"datum": 3.137, "type": "quantitative", "scale": {"domain": [-8.53, 6.468], "nice": false, "zero": false, "reverse": true, "padding": 0}, "axis": null}}},
    {"data": {"name": "one"}, "mark": {"type": "text", "fontSize": 18, "align": "left", "baseline": "middle"},
     "encoding": {"x": {"datum": 84.6, "type": "quantitative", "scale": {"domain": [-23.296, 138.26], "nice": false, "zero": false, "padding": 0}, "axis": null},
      "y": {"datum": 3.64, "type": "quantitative", "scale": {"domain": [-8.53, 6.468], "nice": false, "zero": false, "reverse": true, "padding": 0}, "axis": null},
      "text": {"value": ": Sampling"}}}
   ]
  },
  {
   "width": 393.3, "height": 196.8,
   "title": {"text": "(d)", "anchor": "start", "frame": "group", "dx": -56.7, "offset": -5.7, "fontSize": 22},
   "data": {"name": "cort"},
   "layer": [
    {"mark": {"type": "bar"},
     "encoding": {"x": {"field": "group", "type": "nominal", "scale": {"type": "band", "domain": ["No-Ex", "fW-Ex"], "range": [182.3, 393.3], "paddingInner": 0.687, "paddingOuter": 0.3435}, "axis": {"title": null, "labelAngle": 0, "labelFontSize": 12.5, "tickSize": 4, "labelPadding": 3, "tickBand": "extent"}},
      "y": {"field": "value", "type": "quantitative", "scale": {"domain": [0, 2000], "nice": false}, "axis": {"values": [0, 200, 400, 600, 800, 1000, 1200, 1400, 1600, 1800, 2000], "format": ",.0f", "offset": -182.3, "title": "Serum corticosterone[ng/ml]", "titleFontSize": 17.5, "titlePadding": 9, "minExtent": 40, "labelFontSize": 13, "tickSize": 4, "labelPadding": 5}},
      "color": {"field": "group", "type": "nominal", "scale": {"domain": ["No-Ex", "T-Ex", "vW-Ex", "fW-Ex"], "range": ["#5B9BD5", "#ED7D31", "#70AD47", "#000000"]}, "legend": null}}},
    {"mark": {"type": "rule", "color": "#404040", "strokeWidth": 1.2},
     "encoding": {"x": {"field": "group", "type": "nominal", "scale": {"type": "band", "domain": ["No-Ex", "fW-Ex"], "range": [182.3, 393.3], "paddingInner": 0.687, "paddingOuter": 0.3435}, "axis": {"title": null, "labelAngle": 0, "labelFontSize": 12.5, "tickSize": 4, "labelPadding": 3, "tickBand": "extent"}},
      "y": {"field": "lo", "type": "quantitative", "scale": {"domain": [0, 2000], "nice": false}, "axis": {"values": [0, 200, 400, 600, 800, 1000, 1200, 1400, 1600, 1800, 2000], "format": ",.0f", "offset": -182.3, "title": "Serum corticosterone[ng/ml]", "titleFontSize": 17.5, "titlePadding": 9, "minExtent": 40, "labelFontSize": 13, "tickSize": 4, "labelPadding": 5}}, "y2": {"field": "hi"}}},
    {"mark": {"type": "tick", "color": "#404040", "size": 10, "thickness": 1.2},
     "encoding": {"x": {"field": "group", "type": "nominal", "scale": {"type": "band", "domain": ["No-Ex", "fW-Ex"], "range": [182.3, 393.3], "paddingInner": 0.687, "paddingOuter": 0.3435}, "axis": {"title": null, "labelAngle": 0, "labelFontSize": 12.5, "tickSize": 4, "labelPadding": 3, "tickBand": "extent"}},
      "y": {"field": "lo", "type": "quantitative", "scale": {"domain": [0, 2000], "nice": false}, "axis": {"values": [0, 200, 400, 600, 800, 1000, 1200, 1400, 1600, 1800, 2000], "format": ",.0f", "offset": -182.3, "title": "Serum corticosterone[ng/ml]", "titleFontSize": 17.5, "titlePadding": 9, "minExtent": 40, "labelFontSize": 13, "tickSize": 4, "labelPadding": 5}}}},
    {"mark": {"type": "tick", "color": "#404040", "size": 10, "thickness": 1.2},
     "encoding": {"x": {"field": "group", "type": "nominal", "scale": {"type": "band", "domain": ["No-Ex", "fW-Ex"], "range": [182.3, 393.3], "paddingInner": 0.687, "paddingOuter": 0.3435}, "axis": {"title": null, "labelAngle": 0, "labelFontSize": 12.5, "tickSize": 4, "labelPadding": 3, "tickBand": "extent"}},
      "y": {"field": "hi", "type": "quantitative", "scale": {"domain": [0, 2000], "nice": false}, "axis": {"values": [0, 200, 400, 600, 800, 1000, 1200, 1400, 1600, 1800, 2000], "format": ",.0f", "offset": -182.3, "title": "Serum corticosterone[ng/ml]", "titleFontSize": 17.5, "titlePadding": 9, "minExtent": 40, "labelFontSize": 13, "tickSize": 4, "labelPadding": 5}}}},
    {"mark": {"type": "text", "fontSize": 13, "baseline": "alphabetic", "dy": -4.3},
     "encoding": {"x": {"field": "group", "type": "nominal", "scale": {"type": "band", "domain": ["No-Ex", "fW-Ex"], "range": [182.3, 393.3], "paddingInner": 0.687, "paddingOuter": 0.3435}, "axis": {"title": null, "labelAngle": 0, "labelFontSize": 12.5, "tickSize": 4, "labelPadding": 3, "tickBand": "extent"}},
      "y": {"field": "hi", "type": "quantitative", "scale": {"domain": [0, 2000], "nice": false}, "axis": {"values": [0, 200, 400, 600, 800, 1000, 1200, 1400, 1600, 1800, 2000], "format": ",.0f", "offset": -182.3, "title": "Serum corticosterone[ng/ml]", "titleFontSize": 17.5, "titlePadding": 9, "minExtent": 40, "labelFontSize": 13, "tickSize": 4, "labelPadding": 5}},
      "text": {"field": "sig"}}}
   ]
  }
 ]
}
